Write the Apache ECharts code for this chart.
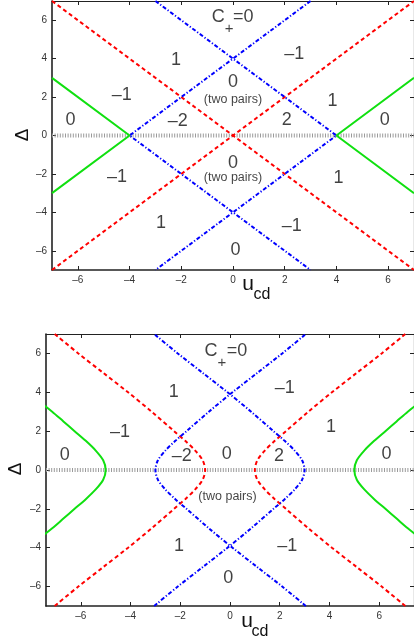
<!DOCTYPE html>
<html>
<head>
<meta charset="utf-8">
<script src="https://cdn.jsdelivr.net/npm/echarts@6/dist/echarts.min.js"></script>
<style>
  html, body { margin: 0; padding: 0; background: #fff; }
  #div-chart { width: 414px; height: 640px; }
</style>
</head>
<body>
<div id="div-chart"></div>
<script>
"use strict";

//
// Data
//
const tick_vals = [-6, -4, -2, 0, 2, 4, 6];

// top panel: straight lines, [u, delta]
const top_red_1 = [[-7, -7], [7, 7]];
const top_red_2 = [[-7, 7], [7, -7]];
const top_blue_1 = [[-3, 7], [4, 0], [-3, -7]];
const top_blue_2 = [[3, 7], [-4, 0], [3, -7]];
const top_green_1 = [[-7, 3], [-4, 0], [-7, -3]];
const top_green_2 = [[7, 3], [4, 0], [7, -3]];
const top_zero = [[-7, 0], [7, 0]];

// bottom panel: hyperbola-like curves, sampled by delta
const hyp_delta = [-7, -6, -5, -4, -3, -2, -1.5, -1, -0.5, 0, 0.5, 1, 1.5, 2, 3, 4, 5, 6, 7];
const bot_red_right_u = [7.05, 6.1, 5.1, 4.1, 3.15, 2.25, 1.8, 1.4, 1.1, 1.0, 1.1, 1.4, 1.8, 2.25, 3.15, 4.1, 5.1, 6.1, 7.05];
const bot_red_left_u = [-7.05, -6.1, -5.1, -4.1, -3.15, -2.25, -1.8, -1.4, -1.1, -1.0, -1.1, -1.4, -1.8, -2.25, -3.15, -4.1, -5.1, -6.1, -7.05];
const bot_blue_1_u = [-3.05, -2.1, -1.1, -0.1, 0.85, 1.75, 2.2, 2.6, 2.9, 3.0, 2.9, 2.6, 2.2, 1.75, 0.85, -0.1, -1.1, -2.1, -3.05];
const bot_blue_2_u = [3.05, 2.1, 1.1, 0.1, -0.85, -1.75, -2.2, -2.6, -2.9, -3.0, -2.9, -2.6, -2.2, -1.75, -0.85, 0.1, 1.1, 2.1, 3.05];
const green_delta = [-3.5, -3, -2.5, -2, -1.5, -1, -0.5, 0, 0.5, 1, 1.5, 2, 2.5, 3, 3.5];
const bot_green_left_u = [-7.65, -7.15, -6.7, -6.25, -5.8, -5.4, -5.1, -5.0, -5.1, -5.4, -5.8, -6.25, -6.7, -7.15, -7.65];
const bot_green_right_u = [7.65, 7.15, 6.7, 6.25, 5.8, 5.4, 5.1, 5.0, 5.1, 5.4, 5.8, 6.25, 6.7, 7.15, 7.65];
const bot_zero = [[-7.4, 0], [7.4, 0]];

// region labels
const top_label_text = ["C", "+", "=0", "1", "–1", "0", "(two pairs)", "–1", "1", "0", "–2", "2", "0", "0", "(two pairs)", "–1", "1", "1", "–1", "0"];
const top_label_u = [-0.57, -0.15, 0.4, -2.2, 2.37, 0, 0, -4.3, 3.85, -6.28, -2.14, 2.08, 5.87, 0, 0, -4.49, 4.08, -2.78, 2.27, 0.1];
const top_label_d = [6.15, 5.54, 6.15, 3.95, 4.24, 2.8, 1.87, 2.1, 1.8, 0.78, 0.74, 0.78, 0.78, -1.42, -2.2, -2.17, -2.2, -4.54, -4.71, -5.97];

const bot_label_text = ["C", "+", "=0", "1", "–1", "–1", "1", "0", "–2", "0", "2", "0", "(two pairs)", "1", "–1", "0"];
const bot_label_u = [-0.76, -0.33, 0.28, -2.26, 2.2, -4.42, 4.06, -6.65, -1.94, -0.13, 1.97, 6.29, -0.1, -2.05, 2.3, -0.07];
const bot_label_d = [6.14, 5.53, 6.14, 4.0, 4.2, 1.93, 2.23, 0.77, 0.74, 0.82, 0.74, 0.82, -1.36, -3.9, -3.9, -5.58];

//
// Styles
//
const FONT = "Liberation Sans, Arial, Helvetica, sans-serif";
const red_style = { color: "#ff0000", width: 2, type: [4, 3] };
const blue_style = { color: "#0000ff", width: 2, type: [4, 2, 1.2, 2] };
const green_style = { color: "#10e010", width: 2, type: "solid" };
const zero_style = { color: "#9a9a9a", width: 4, type: [1, 1.6] };

//
// Helpers
//
function zip(us, ds) {
  return us.map((u, i) => [u, ds[i]]);
}

function line_series(data, axis_idx, style, smooth) {
  return {
    type: "line",
    xAxisIndex: axis_idx,
    yAxisIndex: axis_idx,
    data: data,
    showSymbol: false,
    symbol: "none",
    smooth: smooth ? 0.3 : false,
    lineStyle: style,
    silent: true,
    z: 2,
  };
}

function label_series(texts, us, ds, axis_idx) {
  const data = texts.map((t, i) => {
    let size = 18;
    if (t === "(two pairs)") size = 12.5;
    if (t === "+") size = 15;
    return {
      value: [us[i], ds[i]],
      name: t,
      label: { fontSize: size },
    };
  });
  return {
    type: "scatter",
    xAxisIndex: axis_idx,
    yAxisIndex: axis_idx,
    symbolSize: 0,
    silent: true,
    data: data,
    z: 5,
    label: {
      show: true,
      position: "inside",
      formatter: (p) => p.name,
      color: "#111",
      fontFamily: FONT,
    },
  };
}

function x_axis(grid, min, max, pos) {
  const bottom = pos === "bottom";
  return {
    type: "value",
    gridIndex: grid,
    position: pos,
    min: min,
    max: max,
    splitLine: { show: false },
    axisLine: { show: true, onZero: false, lineStyle: { color: "#222", width: bottom ? 1.6 : 1.2 } },
    axisTick: {
      show: true,
      inside: true,
      length: 4,
      customValues: tick_vals,
      lineStyle: { color: "#222" },
    },
    axisLabel: {
      show: bottom,
      customValues: tick_vals,
      fontSize: 10,
      color: "#333",
      fontFamily: FONT,
      margin: 5,
      formatter: (v) => String(v).replace("-", "–"),
    },
  };
}

function y_axis(grid, pos) {
  const left = pos === "left";
  return {
    type: "value",
    gridIndex: grid,
    position: pos,
    min: -7,
    max: 7,
    splitLine: { show: false },
    axisLine: { show: true, onZero: false, lineStyle: { color: "#222", width: left ? 1.6 : 1.2 } },
    axisTick: {
      show: true,
      inside: true,
      length: 4,
      customValues: tick_vals,
      lineStyle: { color: "#222" },
    },
    axisLabel: {
      show: left,
      customValues: tick_vals,
      fontSize: 10,
      color: "#333",
      fontFamily: FONT,
      margin: 5,
      formatter: (v) => String(v).replace("-", "–"),
    },
  };
}

function axis_title(text, x, y, size, rotate) {
  return {
    type: "text",
    x: x,
    y: y,
    rotation: rotate || 0,
    style: {
      text: text,
      fontSize: size,
      fontFamily: FONT,
      fill: "#111",
      align: "center",
      verticalAlign: "middle",
    },
  };
}

//
// Chart
//
const chart = echarts.init(document.getElementById("div-chart"), null, { renderer: "canvas" });

const series = [
  // top panel
  line_series(top_zero, 0, zero_style, false),
  line_series(top_red_1, 0, red_style, false),
  line_series(top_red_2, 0, red_style, false),
  line_series(top_blue_1, 0, blue_style, false),
  line_series(top_blue_2, 0, blue_style, false),
  line_series(top_green_1, 0, green_style, false),
  line_series(top_green_2, 0, green_style, false),
  label_series(top_label_text, top_label_u, top_label_d, 0),
  // bottom panel
  line_series(bot_zero, 2, zero_style, false),
  line_series(zip(bot_red_right_u, hyp_delta), 2, red_style, true),
  line_series(zip(bot_red_left_u, hyp_delta), 2, red_style, true),
  line_series(zip(bot_blue_1_u, hyp_delta), 2, blue_style, true),
  line_series(zip(bot_blue_2_u, hyp_delta), 2, blue_style, true),
  line_series(zip(bot_green_left_u, green_delta), 2, green_style, true),
  line_series(zip(bot_green_right_u, green_delta), 2, green_style, true),
  label_series(bot_label_text, bot_label_u, bot_label_d, 2),
];

chart.setOption({
  animation: false,
  backgroundColor: "#fff",
  grid: [
    { left: 52, top: 1, width: 363, height: 269 },
    { left: 46, top: 334, width: 369, height: 272 },
  ],
  xAxis: [
    x_axis(0, -7, 7, "bottom"),
    x_axis(0, -7, 7, "top"),
    x_axis(1, -7.4, 7.4, "bottom"),
    x_axis(1, -7.4, 7.4, "top"),
  ],
  yAxis: [
    y_axis(0, "left"),
    y_axis(0, "right"),
    y_axis(1, "left"),
    y_axis(1, "right"),
  ],
  series: series,
  graphic: [
    axis_title("Δ", 23, 135, 19, Math.PI / 2),
    axis_title("u", 248, 284, 21),
    axis_title("cd", 262, 295, 16),
    axis_title("Δ", 16, 469, 19, Math.PI / 2),
    axis_title("u", 247, 621, 21),
    axis_title("cd", 260, 632, 16),
  ],
});
</script>
</body>
</html>
